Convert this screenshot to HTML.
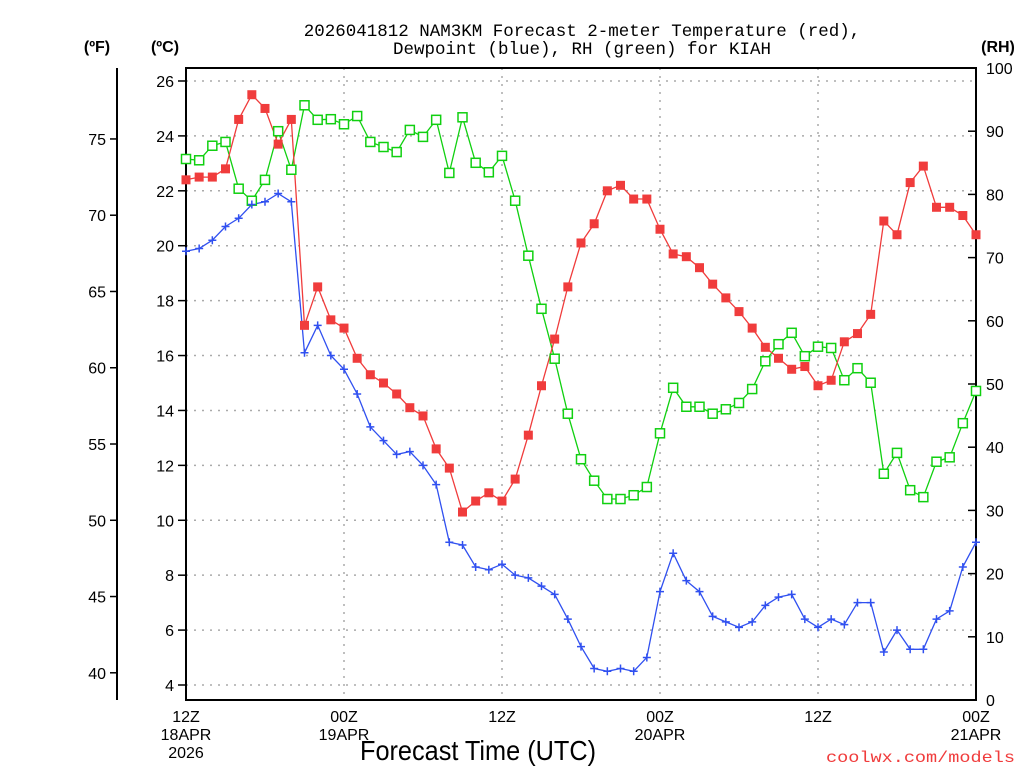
<!DOCTYPE html>
<html><head><meta charset="utf-8"><style>
body{margin:0;background:#fff;}
svg text{font-family:"Liberation Sans",sans-serif;}
svg text.mono{font-family:"Liberation Mono",monospace;}
</style></head><body>
<svg id="chart" width="1024" height="768" xmlns="http://www.w3.org/2000/svg">
<rect width="1024" height="768" fill="#fff"/>
<text class="mono" x="582" y="36" font-size="17.5" text-anchor="middle" fill="#000">2026041812 NAM3KM Forecast 2-meter Temperature (red),</text>
<text class="mono" x="582" y="54" font-size="17.5" text-anchor="middle" fill="#000">Dewpoint (blue), RH (green) for KIAH</text>
<text x="97" y="52" font-size="16" font-weight="bold" text-anchor="middle">(ºF)</text>
<text x="165" y="52" font-size="16" font-weight="bold" text-anchor="middle">(ºC)</text>
<text x="998" y="52" font-size="16" font-weight="bold" text-anchor="middle">(RH)</text>
<text x="478" y="760" font-size="28" text-anchor="middle" textLength="236" lengthAdjust="spacingAndGlyphs">Forecast Time (UTC)</text>
<text class="mono" x="1015" y="762" font-size="16" text-anchor="end" fill="#f03c3c" textLength="189" lengthAdjust="spacingAndGlyphs">coolwx.com/models</text>
<g id="grid"></g><g id="axes"></g><g id="series"></g>
</svg>
<script>
const tempC=[22.4,22.5,22.5,22.8,24.6,25.5,25.0,23.7,24.6,17.1,18.5,17.3,17.0,15.9,15.3,15.0,14.6,14.1,13.8,12.6,11.9,10.3,10.7,11.0,10.7,11.5,13.1,14.9,16.6,18.5,20.1,20.8,22.0,22.2,21.7,21.7,20.6,19.7,19.6,19.2,18.6,18.1,17.6,17.0,16.3,15.9,15.5,15.6,14.9,15.1,16.5,16.8,17.5,20.9,20.4,22.3,22.9,21.4,21.4,21.1,20.4];
const dewC=[19.8,19.9,20.2,20.7,21.0,21.5,21.6,21.9,21.6,16.1,17.1,16.0,15.5,14.6,13.4,12.9,12.4,12.5,12.0,11.3,9.2,9.1,8.3,8.2,8.4,8.0,7.9,7.6,7.3,6.4,5.4,4.6,4.5,4.6,4.5,5.0,7.4,8.8,7.8,7.4,6.5,6.3,6.1,6.3,6.9,7.2,7.3,6.4,6.1,6.4,6.2,7.0,7.0,5.2,6.0,5.3,5.3,6.4,6.7,8.3,9.2];
const rhPct=[85.6,85.4,87.7,88.3,80.9,79.0,82.3,90.0,83.9,94.1,91.8,91.9,91.1,92.4,88.3,87.5,86.7,90.2,89.1,91.8,83.4,92.2,85.0,83.5,86.1,79.0,70.3,61.9,54.0,45.3,38.1,34.7,31.8,31.8,32.4,33.7,42.2,49.4,46.4,46.4,45.3,46.0,47.0,49.2,53.6,56.3,58.1,54.4,55.9,55.7,50.6,52.5,50.2,35.8,39.1,33.2,32.1,37.7,38.4,43.8,48.9];
const celsiusTicks=[4,6,8,10,12,14,16,18,20,22,24,26];
const fahrTicks=[40,45,50,55,60,65,70,75];
const rhTicks=[0,10,20,30,40,50,60,70,80,90,100];
const timeTicksHours=[0,12,24,36,48,60];
const timeTickLabels=[["12Z","18APR","2026"],["00Z","19APR"],["12Z"],["00Z","20APR"],["12Z"],["00Z","21APR"]];

const L=186,R=976,T=68,B=700;
const xS=h=>L+(R-L)*h/60;
const yC=c=>685-(c-4)*27.455;
const yF=f=>yC((f-32)*5/9);
const yRH=r=>B-(B-T)*r/100;
const NS="http://www.w3.org/2000/svg";
function mk(tag,attrs,parent){const e=document.createElementNS(NS,tag);for(const k in attrs)e.setAttribute(k,attrs[k]);parent.appendChild(e);return e;}
const grid=document.getElementById('grid'),axes=document.getElementById('axes'),ser=document.getElementById('series');

celsiusTicks.forEach(c=>{
  const y=yC(c);
  const g=mk('line',{x1:L,x2:R,y1:y,y2:y,stroke:'#aaa','stroke-dasharray':'2,6','stroke-width':1.5},grid);
  
  
  const t=mk('line',{x1:L-8,x2:L,y1:y,y2:y,stroke:'#000','stroke-width':1.5},axes);
  
  
  const tx=mk('text',{x:L-12,y:y+6,'font-size':16,'text-anchor':'end'},axes);tx.textContent=c;
  
  
});
timeTicksHours.forEach((h,i)=>{
  const x=xS(h);
  if(h>0&&h<60){const g=mk('line',{x1:x,x2:x,y1:T,y2:B,stroke:'#aaa','stroke-dasharray':'2,6','stroke-width':1.5},grid);
  
  }
  timeTickLabels[i].forEach((s,j)=>{const tx=mk('text',{x:x,y:722+j*18,'font-size':16,'text-anchor':'middle'},axes);tx.textContent=s;
  
  });
});
fahrTicks.forEach(f=>{
  const y=yF(f);
  const t=mk('line',{x1:117-7,x2:117,y1:y,y2:y,stroke:'#000','stroke-width':1.5},axes);
  
  
  const tx=mk('text',{x:106,y:y+6,'font-size':16,'text-anchor':'end'},axes);tx.textContent=f;
  
  
});
rhTicks.forEach(r=>{
  const y=yRH(r);
  const t=mk('line',{x1:R-8,x2:R,y1:y,y2:y,stroke:'#000','stroke-width':1.5},axes);
  
  
  const tx=mk('text',{x:986,y:y+6,'font-size':16,'text-anchor':'start'},axes);tx.textContent=r;
  
  
});
const fa=mk('line',{x1:117,x2:117,y1:T,y2:B,stroke:'#000','stroke-width':2},axes);


const fr=mk('rect',{x:L,y:T,width:R-L,height:B-T,fill:'none',stroke:'#000','stroke-width':2},axes);



function line(vals,yf,color,name){
  const pts=vals.map((v,i)=>xS(i).toFixed(1)+','+yf(v).toFixed(1)).join(' ');
  const p=mk('polyline',{points:pts,fill:'none',stroke:color,'stroke-width':1.3},ser);
  
  
}
line(rhPct,yRH,'#10d010','rh-line');
line(dewC,yC,'#3050f0','dewpoint-line');
line(tempC,yC,'#f03c3c','temperature-line');
rhPct.forEach((v,i)=>{const m=mk('rect',{x:xS(i)-4.5,y:yRH(v)-4.5,width:9,height:9,fill:'#fff',stroke:'#10d010','stroke-width':1.5},ser);
  
  });
dewC.forEach((v,i)=>{const x=xS(i),y=yC(v);const m=mk('path',{d:`M${x-4},${y}H${x+4}M${x},${y-4}V${y+4}`,stroke:'#3050f0','stroke-width':1.5},ser);
  
  });
tempC.forEach((v,i)=>{const m=mk('rect',{x:xS(i)-4.5,y:yC(v)-4.5,width:9,height:9,fill:'#f03c3c'},ser);
  
  });
</script>
</body></html>
